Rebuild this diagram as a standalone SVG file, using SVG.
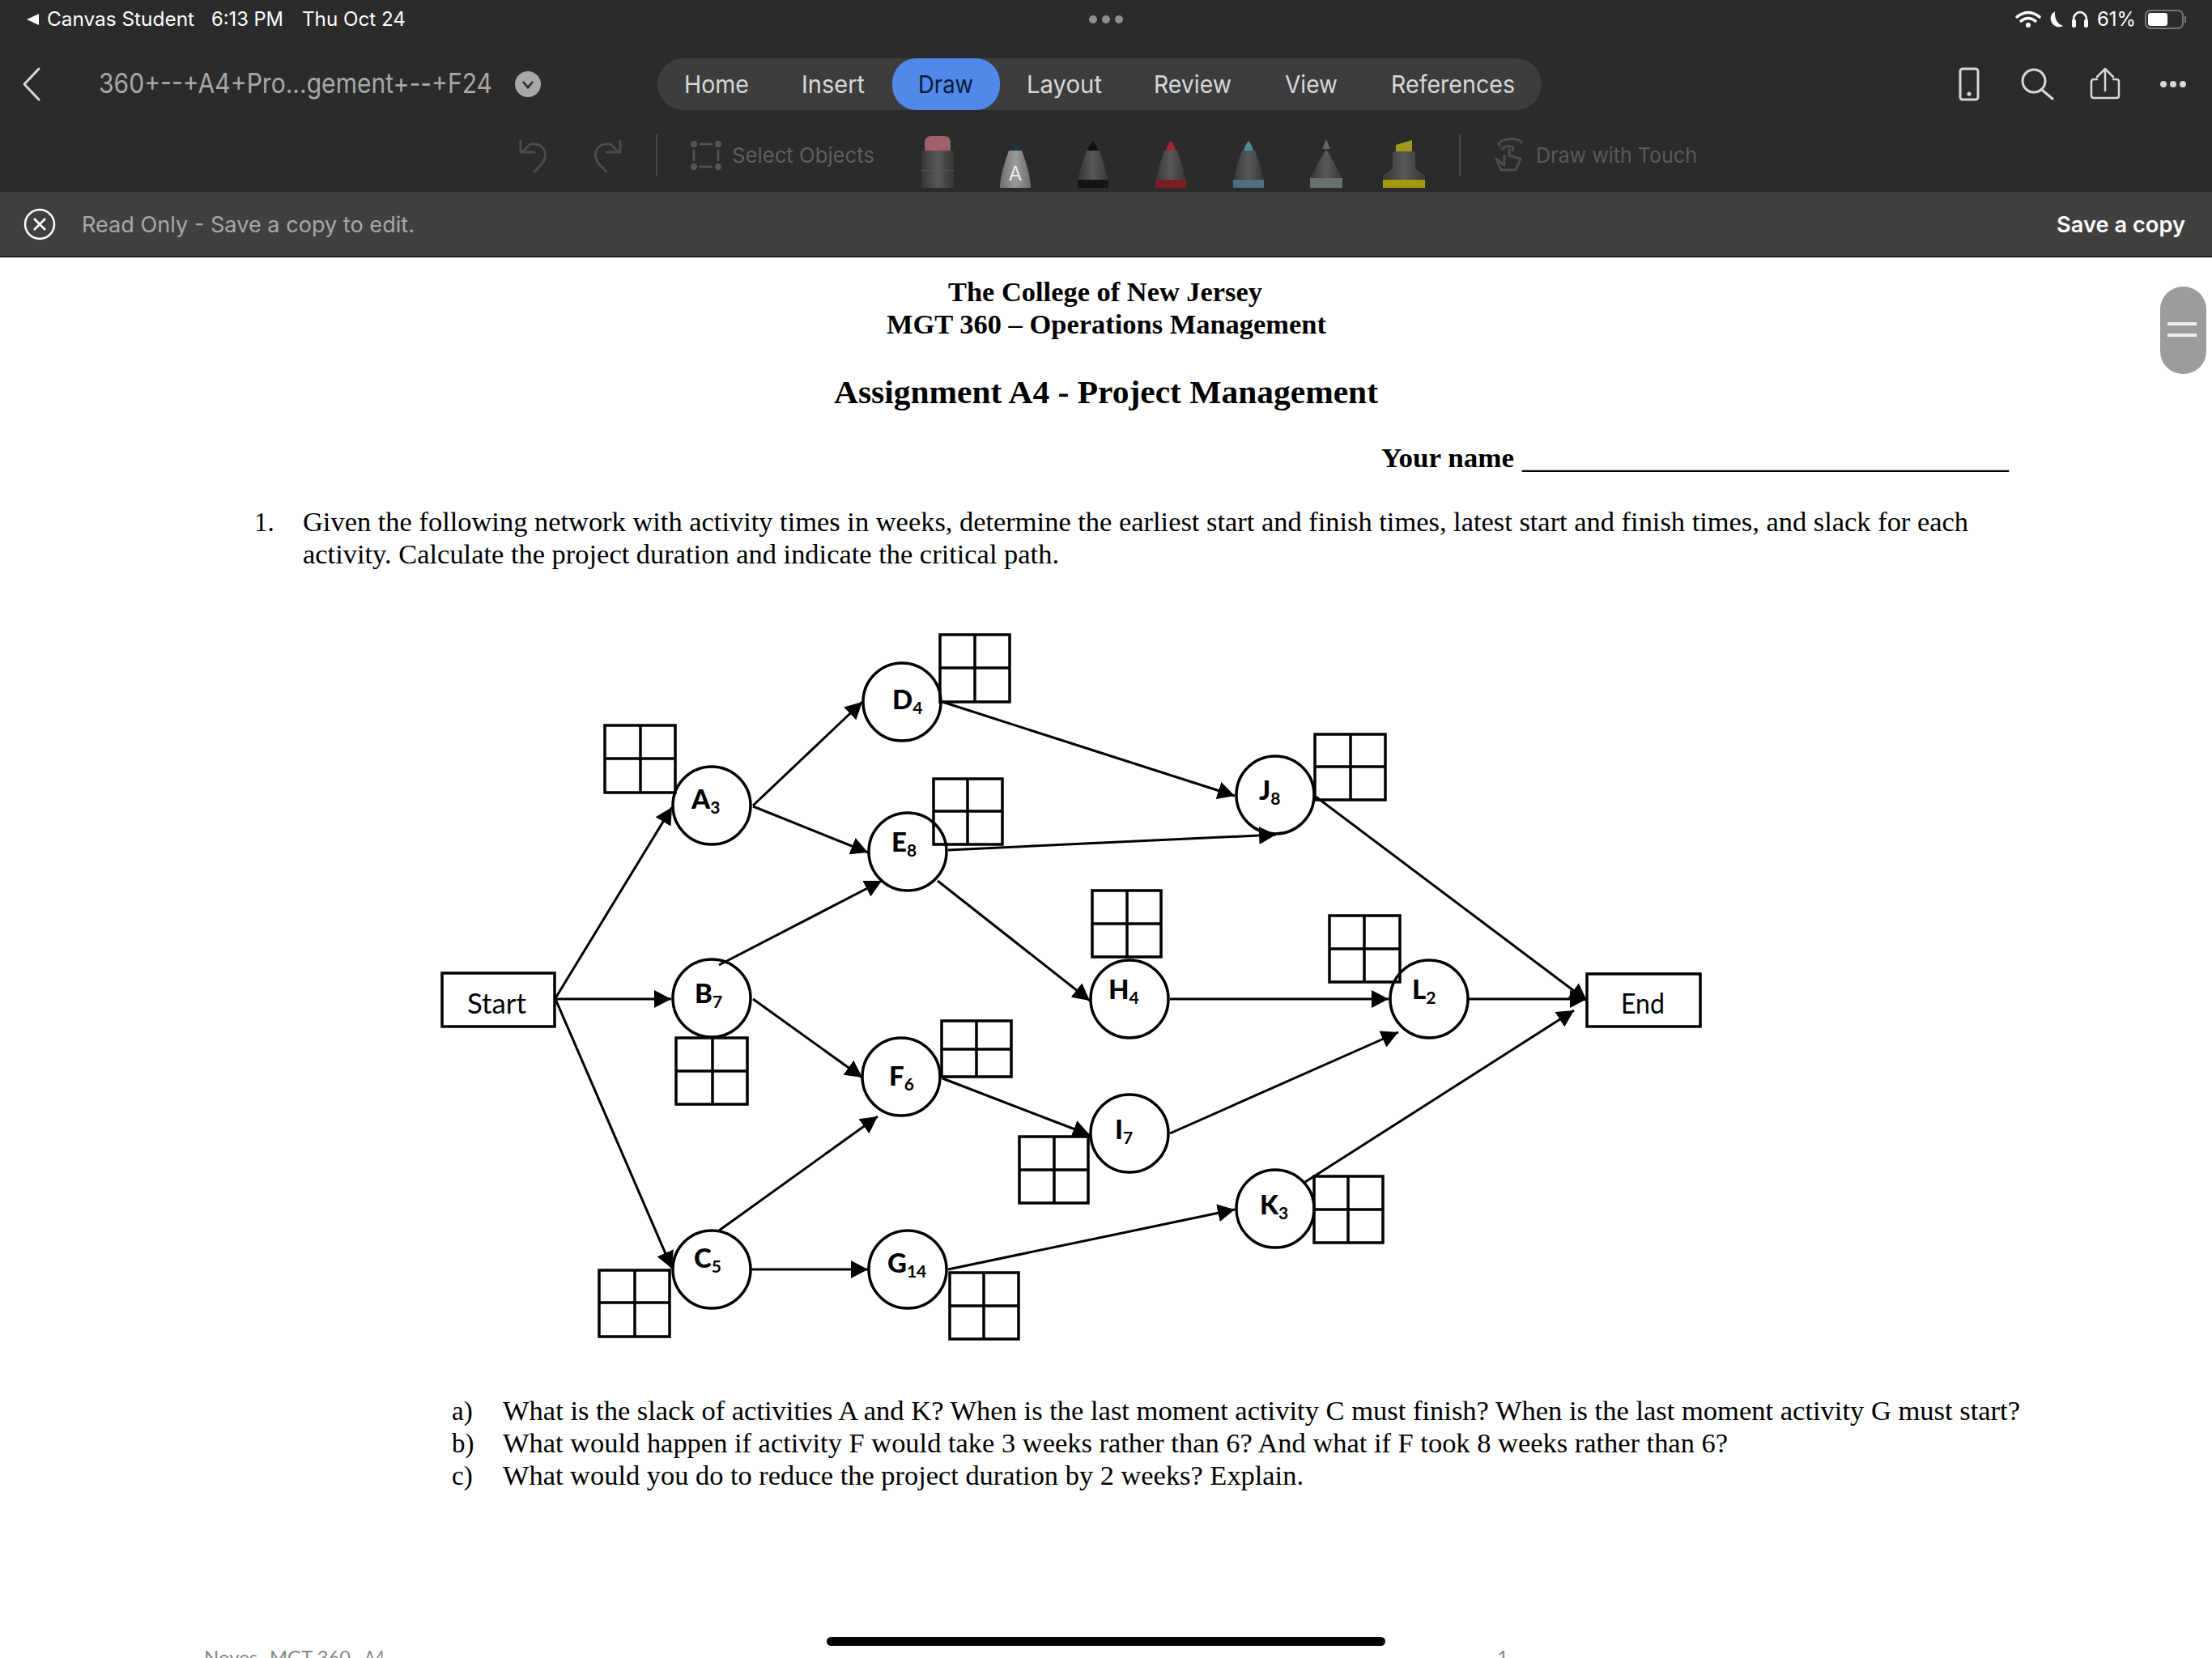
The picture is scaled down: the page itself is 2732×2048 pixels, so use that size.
<svg xmlns="http://www.w3.org/2000/svg" width="2732" height="2048" viewBox="0 0 2732 2048">
<style>
.ui{font-family:Inter,"Noto Sans",sans-serif}
.doc{font-family:"Liberation Serif",serif;fill:#000}
.b{font-weight:700}
.tab{font-size:30px;fill:#d8d8d8}
.ic{fill:none;stroke-linecap:round;stroke-linejoin:round}
.dim{stroke:#4c4c4c;stroke-width:3}
.lt{stroke:#d8d8d8;stroke-width:3}
.node{fill:none;stroke:#000;stroke-width:3.5}
.grid{fill:none;stroke:#000;stroke-width:3.5}
.lab{font-family:Lato,"Noto Sans",sans-serif;font-size:33px;font-weight:900;fill:#000}
.lab tspan{font-size:21px;font-weight:700}
.term{font-family:Lato,"Noto Sans",sans-serif;font-size:35px;fill:#000}
.cn{stroke:#000;stroke-width:3;fill:none;marker-end:url(#ah)}
.foot{font-family:Lato,sans-serif;font-size:24px;fill:#888}
</style>
<defs>
<marker id="ah" markerUnits="userSpaceOnUse" markerWidth="22" markerHeight="22" refX="21" refY="11" orient="auto"><path d="M0 0L21 11L0 22Z" fill="#000"/></marker>
<linearGradient id="pb" x1="0" x2="1" y1="0" y2="0"><stop offset="0" stop-color="#363636"/><stop offset=".5" stop-color="#585858"/><stop offset="1" stop-color="#363636"/></linearGradient>
<linearGradient id="ps" x1="0" x2="1" y1="0" y2="0"><stop offset="0" stop-color="#6e6e6e"/><stop offset=".5" stop-color="#9a9a9a"/><stop offset="1" stop-color="#6e6e6e"/></linearGradient>
<path id="pen-body" d="M-8 186C-13 200-19 218-19 232H19C19 218 13 200 8 186Z"/>
<path id="pen-tip" d="M0 174C3 177 5 182 6 186H-6C-5 182-3 177 0 174Z"/>
</defs>
<g id="chrome">
<rect x="0" y="0" width="2732" height="237" fill="#2b2b2b"/>
<rect x="0" y="237" width="2732" height="80" fill="#404040"/>
<rect x="0" y="316" width="2732" height="2" fill="#222"/>
<rect x="0" y="318" width="2732" height="1730" fill="#fff"/>
<path d="M48 17V31L33 24Z" fill="#fff"/>
<text class="ui" x="58" y="32" font-size="24" fill="#fff" textLength="182" lengthAdjust="spacingAndGlyphs">Canvas Student</text>
<text class="ui" x="261" y="32" font-size="24" fill="#fff" textLength="89" lengthAdjust="spacingAndGlyphs">6:13 PM</text>
<text class="ui" x="373" y="32" font-size="24" fill="#fff" textLength="128" lengthAdjust="spacingAndGlyphs">Thu Oct 24</text>
<g fill="#8f8f8f"><circle cx="1350" cy="24" r="5"/><circle cx="1366" cy="24" r="5"/><circle cx="1382" cy="24" r="5"/></g>
<g fill="none" stroke="#fff" stroke-width="3.5" stroke-linecap="round"><path d="M2491 21Q2505 10 2519 21"/><path d="M2496 26Q2505 19 2514 26"/></g>
<circle cx="2505" cy="31" r="3" fill="#fff"/>
<path d="M2538 14A10 10 0 1 0 2548 32Q2537 28 2538 14Z" fill="#fff"/>
<path d="M2561 32V24A8 9 0 0 1 2577 24V32" fill="none" stroke="#fff" stroke-width="2.5"/>
<rect x="2559" y="24" width="5" height="10" rx="2" fill="#fff"/><rect x="2574" y="24" width="5" height="10" rx="2" fill="#fff"/>
<text class="ui" x="2590" y="32" font-size="24" fill="#fff" textLength="48" lengthAdjust="spacingAndGlyphs">61%</text>
<rect x="2650" y="13" width="46" height="22" rx="6" fill="none" stroke="#777" stroke-width="2"/>
<rect x="2653" y="16" width="24" height="16" rx="3" fill="#fff"/>
<rect x="2698" y="20" width="2" height="8" fill="#777"/>
<path class="ic lt" d="M48 85L30 104L48 123"/>
<text class="ui" x="122" y="115" font-size="34" fill="#a8a8a8" textLength="486" lengthAdjust="spacingAndGlyphs">360+--+A4+Pro...gement+--+F24</text>
<circle cx="652" cy="104" r="16" fill="#a8a8a8"/>
<path d="M646 101L652 108L658 101" fill="none" stroke="#2b2b2b" stroke-width="2.5"/>
<rect x="812" y="72" width="1092" height="64" rx="32" fill="#3d3d3d"/>
<rect x="1102" y="72" width="133" height="64" rx="30" fill="#5188ea"/>
<text class="ui tab" x="845" y="115" textLength="80" lengthAdjust="spacingAndGlyphs">Home</text>
<text class="ui tab" x="990" y="115" textLength="78" lengthAdjust="spacingAndGlyphs">Insert</text>
<text class="ui tab" x="1134" y="115" style="fill:#0b1a33" textLength="68" lengthAdjust="spacingAndGlyphs">Draw</text>
<text class="ui tab" x="1268" y="115" textLength="93" lengthAdjust="spacingAndGlyphs">Layout</text>
<text class="ui tab" x="1425" y="115" textLength="96" lengthAdjust="spacingAndGlyphs">Review</text>
<text class="ui tab" x="1587" y="115" textLength="65" lengthAdjust="spacingAndGlyphs">View</text>
<text class="ui tab" x="1718" y="115" textLength="153" lengthAdjust="spacingAndGlyphs">References</text>
<rect x="2421" y="85" width="22" height="38" rx="3" fill="none" stroke="#d8d8d8" stroke-width="3"/><circle cx="2432" cy="116" r="2.5" fill="#d8d8d8"/>
<circle cx="2512" cy="100" r="14" fill="none" stroke="#d8d8d8" stroke-width="3"/><path d="M2522 111L2535 122" class="ic" stroke="#d8d8d8" stroke-width="3"/>
<path class="ic" stroke="#d8d8d8" stroke-width="2.5" d="M2600 86V112M2590 95L2600 85L2610 95M2590 98H2586Q2583 98 2583 101V118Q2583 121 2586 121H2614Q2617 121 2617 118V101Q2617 98 2614 98H2610"/>
<g fill="#d8d8d8"><circle cx="2672" cy="104" r="4"/><circle cx="2684" cy="104" r="4"/><circle cx="2696" cy="104" r="4"/></g>
<path class="ic dim" d="M643 174V188H660M645 188L655 178C671 176 680 190 668 204L660 212"/>
<path class="ic dim" d="M766 174V188H749M764 188L754 178C738 176 729 190 741 204L749 212"/>
<rect x="810" y="166" width="2" height="52" fill="#484848"/>
<path d="M864 178H880M864 206H880M857 185V199M887 185V199" fill="none" stroke="#555" stroke-width="2.5"/>
<g fill="#555"><circle cx="857" cy="178" r="4"/><circle cx="887" cy="178" r="4"/><circle cx="857" cy="206" r="4"/><circle cx="887" cy="206" r="4"/></g>
<text class="ui" x="904" y="201" font-size="26" fill="#5f5f5f" textLength="176" lengthAdjust="spacingAndGlyphs">Select Objects</text>
<path d="M1142 186V176Q1142 168 1150 168H1166Q1174 168 1174 176V186Z" fill="#a15f69"/>
<rect x="1138" y="186" width="40" height="46" fill="url(#pb)"/><rect x="1138" y="210" width="40" height="1" fill="#555"/>
<use href="#pen-body" x="1254" fill="url(#ps)"/><use href="#pen-tip" x="1254" fill="#1f3440"/>
<text x="1254" y="223" font-family="Inter,sans-serif" font-size="24" fill="#eee" text-anchor="middle">A</text>
<use href="#pen-body" x="1350" fill="url(#pb)"/><use href="#pen-tip" x="1350" fill="#111"/><rect x="1331" y="222" width="38" height="10" fill="#151515"/>
<use href="#pen-body" x="1446" fill="url(#pb)"/><use href="#pen-tip" x="1446" fill="#a22630"/><rect x="1427" y="222" width="38" height="10" fill="#7d1e26"/>
<use href="#pen-body" x="1542" fill="url(#pb)"/><use href="#pen-tip" x="1542" fill="#4b8c91"/><rect x="1523" y="222" width="38" height="10" fill="#4d6f7d"/>
<path d="M1638 184L1658 220V232H1618V220Z" fill="url(#pb)"/><path d="M1638 172L1643 184H1633Z" fill="#666"/><rect x="1618" y="220" width="40" height="12" fill="#68706f"/>
<path d="M1724 179L1744 173V187H1724Z" fill="#a39a1c"/>
<path d="M1724 187H1744Q1748 187 1748 191V205Q1748 210 1760 217V232H1708V217Q1720 210 1720 205V191Q1720 187 1724 187Z" fill="url(#pb)"/><rect x="1708" y="222" width="52" height="10" fill="#a39a12"/>
<rect x="1802" y="166" width="2" height="52" fill="#484848"/>
<path class="ic dim" d="M1852 180C1846 172 1876 168 1879 176M1855 184C1862 178 1872 180 1868 186M1858 192V204L1848 196L1854 210H1872L1878 196L1864 192V184"/>
<text class="ui" x="1897" y="201" font-size="26" fill="#5a5a5a" textLength="199" lengthAdjust="spacingAndGlyphs">Draw with Touch</text>
<circle cx="49" cy="277" r="18" fill="none" stroke="#fff" stroke-width="2.5"/>
<path d="M42 270L56 284M56 270L42 284" stroke="#fff" stroke-width="2.5"/>
<text class="ui" x="101" y="287" font-size="27" fill="#a8a8a8" textLength="411" lengthAdjust="spacingAndGlyphs">Read Only - Save a copy to edit.</text>
<text class="ui" x="2540" y="287" font-size="27" font-weight="600" fill="#fff" textLength="159" lengthAdjust="spacingAndGlyphs">Save a copy</text>
<rect x="2668" y="354" width="57" height="108" rx="28" fill="#9c9c9c"/>
<rect x="2677" y="398" width="36" height="4" fill="#eee"/><rect x="2677" y="412" width="36" height="4" fill="#eee"/>
<rect x="1021" y="2022" width="690" height="11" rx="5.5" fill="#000"/>
</g>
<g id="document">
<text class="doc b" x="1171" y="372" font-size="33" textLength="388" lengthAdjust="spacingAndGlyphs">The College of New Jersey</text>
<text class="doc b" x="1095" y="412" font-size="33" textLength="543" lengthAdjust="spacingAndGlyphs">MGT 360 – Operations Management</text>
<text class="doc b" x="1030" y="498" font-size="41" textLength="672" lengthAdjust="spacingAndGlyphs">Assignment A4 - Project Management</text>
<text class="doc b" x="1706" y="577" font-size="33" textLength="164" lengthAdjust="spacingAndGlyphs">Your name</text>
<text class="doc b" x="1880" y="578" font-size="33" textLength="601" lengthAdjust="spacingAndGlyphs">____________________________________</text>
<text class="doc" x="314" y="656" font-size="33">1.</text>
<text class="doc" x="374" y="656" font-size="33" textLength="2057" lengthAdjust="spacingAndGlyphs">Given the following network with activity times in weeks, determine the earliest start and finish times, latest start and finish times, and slack for each</text>
<text class="doc" x="374" y="696" font-size="33" textLength="934" lengthAdjust="spacingAndGlyphs">activity. Calculate the project duration and indicate the critical path.</text>
<text class="doc" x="558" y="1754" font-size="33">a)</text>
<text class="doc" x="621" y="1754" font-size="33" textLength="1874" lengthAdjust="spacingAndGlyphs">What is the slack of activities A and K? When is the last moment activity C must finish? When is the last moment activity G must start?</text>
<text class="doc" x="558" y="1794" font-size="33">b)</text>
<text class="doc" x="621" y="1794" font-size="33" textLength="1513" lengthAdjust="spacingAndGlyphs">What would happen if activity F would take 3 weeks rather than 6? And what if F took 8 weeks rather than 6?</text>
<text class="doc" x="558" y="1834" font-size="33">c)</text>
<text class="doc" x="621" y="1834" font-size="33" textLength="989" lengthAdjust="spacingAndGlyphs">What would you do to reduce the project duration by 2 weeks? Explain.</text>
<text class="foot" x="252" y="2056">Noyes</text>
<text class="foot" x="333" y="2056" textLength="100" lengthAdjust="spacingAndGlyphs">MGT 360</text>
<text class="foot" x="450" y="2056" textLength="25" lengthAdjust="spacingAndGlyphs">A4</text>
<text class="foot" x="1849" y="2056">1</text>
</g>
<g id="connectors">
<path class="cn" d="M686 1233L830 997"/>
<path class="cn" d="M686 1234H829"/>
<path class="cn" d="M686 1234L830 1567"/>
<path class="cn" d="M930 995L1065 867"/>
<path class="cn" d="M930 996L1072 1053"/>
<path class="cn" d="M888 1192L1089 1088"/>
<path class="cn" d="M930 1234L1065 1331"/>
<path class="cn" d="M888 1520L1084 1379"/>
<path class="cn" d="M928 1568H1072"/>
<path class="cn" d="M1171 1568L1525 1494"/>
<path class="cn" d="M1164 867L1525 983"/>
<path class="cn" d="M1171 1050L1576 1031"/>
<path class="cn" d="M1158 1088L1346 1236"/>
<path class="cn" d="M1164 1332L1346 1402"/>
<path class="cn" d="M1445 1234H1715"/>
<path class="cn" d="M1445 1400L1727 1275"/>
<path class="cn" d="M1814 1234H1960"/>
<path class="cn" d="M1625 984L1960 1236"/>
<path class="cn" d="M1612 1460L1944 1248"/>
</g>
<g id="node-start"><rect class="node" x="546" y="1202" width="139" height="66"/><text class="term" x="577" y="1252" textLength="73" lengthAdjust="spacingAndGlyphs">Start</text></g>
<g id="node-end"><rect class="node" x="1960" y="1203" width="140" height="65"/><text class="term" x="2002" y="1252" textLength="54" lengthAdjust="spacingAndGlyphs">End</text></g>
<g id="node-a"><circle class="node" cx="879" cy="995" r="48"/><text class="lab" x="854" y="999">A<tspan dy="6">3</tspan></text><path class="grid" d="M747 896H834V979H747ZM791 896V979M747 937H834"/></g>
<g id="node-b"><circle class="node" cx="879" cy="1233" r="48"/><text class="lab" x="858" y="1239">B<tspan dy="6">7</tspan></text><path class="grid" d="M835 1282H923V1364H835ZM880 1282V1364M835 1323H923"/></g>
<g id="node-c"><circle class="node" cx="879" cy="1568" r="48"/><text class="lab" x="857" y="1566">C<tspan dy="6">5</tspan></text><path class="grid" d="M740 1569H827V1651H740ZM784 1569V1651M740 1609H827"/></g>
<g id="node-d"><circle class="node" cx="1114" cy="867" r="48"/><text class="lab" x="1102" y="876">D<tspan dy="6">4</tspan></text><path class="grid" d="M1161 784H1247V867H1161ZM1204 784V867M1161 825H1247"/></g>
<g id="node-e"><circle class="node" cx="1121" cy="1052" r="48"/><text class="lab" x="1101" y="1052">E<tspan dy="6">8</tspan></text><path class="grid" d="M1153 962H1238V1043H1153ZM1195 962V1043M1153 1002H1238"/></g>
<g id="node-f"><circle class="node" cx="1113" cy="1330" r="48"/><text class="lab" x="1098" y="1341">F<tspan dy="6">6</tspan></text><path class="grid" d="M1163 1261H1249V1330H1163ZM1206 1261V1330M1163 1296H1249"/></g>
<g id="node-g"><circle class="node" cx="1121" cy="1568" r="48"/><text class="lab" x="1096" y="1572">G<tspan dy="6">14</tspan></text><path class="grid" d="M1173 1572H1258V1654H1173ZM1215 1572V1654M1173 1613H1258"/></g>
<g id="node-h"><circle class="node" cx="1395" cy="1234" r="48"/><text class="lab" x="1369" y="1234">H<tspan dy="6">4</tspan></text><path class="grid" d="M1349 1100H1434V1182H1349ZM1392 1100V1182M1349 1141H1434"/></g>
<g id="node-i"><circle class="node" cx="1395" cy="1400" r="48"/><text class="lab" x="1377" y="1407">I<tspan dy="6">7</tspan></text><path class="grid" d="M1259 1404H1344V1486H1259ZM1302 1404V1486M1259 1445H1344"/></g>
<g id="node-j"><circle class="node" cx="1575" cy="982" r="48"/><text class="lab" x="1555" y="988">J<tspan dy="6">8</tspan></text><path class="grid" d="M1624 907H1711V988H1624ZM1668 907V988M1624 947H1711"/></g>
<g id="node-k"><circle class="node" cx="1575" cy="1493" r="48"/><text class="lab" x="1556" y="1500">K<tspan dy="6">3</tspan></text><path class="grid" d="M1623 1453H1708V1535H1623ZM1665 1453V1535M1623 1494H1708"/></g>
<g id="node-l"><circle class="node" cx="1765" cy="1234" r="48"/><text class="lab" x="1744" y="1234">L<tspan dy="6">2</tspan></text><path class="grid" d="M1642 1131H1729V1213H1642ZM1685 1131V1213M1642 1172H1729"/></g>
</svg>
